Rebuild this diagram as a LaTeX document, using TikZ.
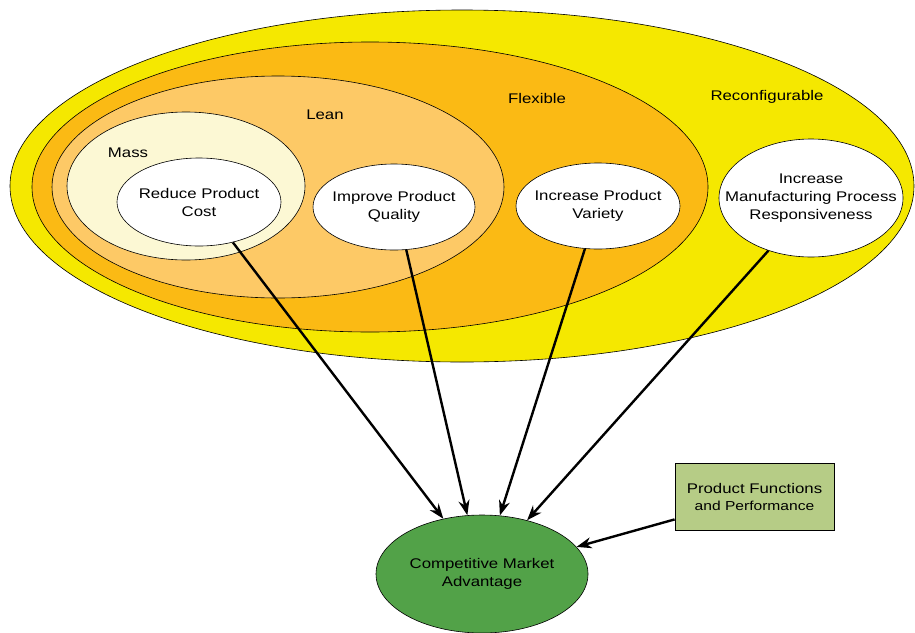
\documentclass[tikz,border=0pt]{standalone}
\usepackage{fontspec}
\setmainfont{Liberation Sans}[FakeStretch=1.2]
\usetikzlibrary{shapes.geometric,arrows.meta}
\definecolor{cyellow}{RGB}{245,232,0}
\definecolor{corange}{RGB}{251,186,20}
\definecolor{clean}{RGB}{253,201,102}
\definecolor{cmass}{RGB}{252,248,212}
\definecolor{cgreen}{RGB}{82,162,72}
\definecolor{cbox}{RGB}{182,204,134}
\tikzset{
  ring/.style={ellipse, draw=black, line width=0.6pt, inner sep=0pt},
  goal/.style={ellipse, draw=black, line width=0.6pt, fill=white, inner sep=0pt},
  txt/.style={align=center, inner sep=0pt, font=\fontsize{14}{18}\selectfont},
  lbl/.style={font=\fontsize{14}{18}\selectfont, inner sep=0pt},
  arr/.style={-{Stealth[length=15pt,width=11pt]}, line width=2.4pt},
}
\begin{document}
\begin{tikzpicture}[x=1pt,y=-1pt]
\useasboundingbox (0,0) rectangle (915,632);
% containers
\node[ring, fill=cyellow, minimum width=904pt, minimum height=352pt] (reconf) at (462,186) {};
\node[ring, fill=corange, minimum width=676pt, minimum height=290pt] (flex) at (370,187) {};
\node[ring, fill=clean, minimum width=452pt, minimum height=222pt] (lean) at (278,187) {};
\node[ring, fill=cmass, minimum width=238pt, minimum height=148pt] (mass) at (186,186) {};
% labels
\node[lbl] (lmass) at (128,153) {Mass};
\node[lbl] (llean) at (325,115) {Lean};
\node[lbl] (lflex) at (537,98) {Flexible};
\node[lbl] (lreconf) at (767,97) {Reconfigurable};
% goals
\node[goal, minimum width=164pt, minimum height=88pt] (cost) at (199,202) {};
\node[txt] (costt) at (cost.center) {Reduce Product\\Cost};
\node[goal, minimum width=162pt, minimum height=86pt] (quality) at (394,207) {};
\node[txt] (qualityt) at (quality.center) {Improve Product\\Quality};
\node[goal, minimum width=164pt, minimum height=86pt] (variety) at (598,206) {};
\node[txt] (varietyt) at (variety.center) {Increase Product\\Variety};
\node[goal, minimum width=184pt, minimum height=118pt] (resp) at (811,198) {};
\node[txt] (respt) at (resp.center) {Increase\\Manufacturing Process\\Responsiveness};
% outcome
\node[ellipse, draw=black, line width=0.6pt, fill=cgreen, inner sep=0pt, minimum width=212pt, minimum height=118pt] (cma) at (482,574) {};
\node[txt] (cmat) at (cma.center) {Competitive Market\\Advantage};
\node[rectangle, draw=black, line width=0.8pt, fill=cbox, minimum width=159pt, minimum height=67pt, align=center, font=\fontsize{14}{17}\selectfont] (pfp) at (754.5,496.5) {Product Functions\\{\fontsize{13}{17}\selectfont and Performance}};
% connectors
\draw[arr] (cost.-50) -- (cma.125);
\draw[arr] (quality.-74) -- (cma.104);
\draw[arr] (variety.-107) -- (cma.73);
\draw[arr] (resp.-129) -- (cma.50);
\draw[arr] (pfp.196) -- (cma.16);
\end{tikzpicture}
\end{document}
